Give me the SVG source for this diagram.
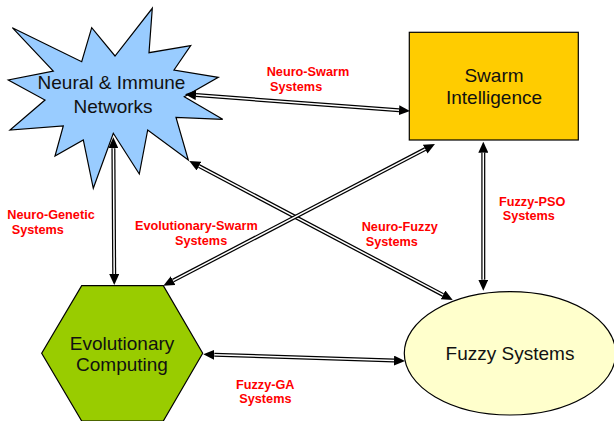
<svg xmlns="http://www.w3.org/2000/svg" width="614" height="421" viewBox="0 0 614 421">
  <defs>
    <marker id="head" viewBox="0 -5 11 10" refX="0" refY="0" markerWidth="11" markerHeight="10" markerUnits="userSpaceOnUse" orient="auto-start-reverse">
      <path d="M0,-5 L11,0 L0,5 z" fill="#000"/>
    </marker>
    <style>
      .shape { stroke: #000; stroke-width: 1.2; }
      .title { font-family: "Liberation Sans", Arial, sans-serif; font-size: 19px; fill: #111; text-anchor: middle; }
      .label { font-family: "Liberation Sans", Arial, sans-serif; font-size: 12.7px; font-weight: bold; fill: #ff0000; }
      .wire-outer { fill: none; stroke: #000; stroke-width: 4; marker-start: url(#head); marker-end: url(#head); }
      .wire-inner { fill: none; stroke: #fff; stroke-width: 1.5; }
    </style>
  </defs>
  <rect width="614" height="421" fill="#fff"/>

  <g id="neural-immune">
    <polygon class="shape" fill="#99ccff" points="12.3,27.7 81.7,61.7 91.7,27.7 115,56 152.3,8.3 149,52.7 190.7,45.7 174,70 218.3,77.3 184.3,96.7 222.7,119.3 176,117.3 188.3,160 147.7,130 139.3,174 113.3,133.3 93.3,188.3 83.3,140 55,156 63.3,126 10,130 45,100 8.3,80 53.3,71"/>
    <text class="title" x="111.5" y="89">Neural &amp; Immune</text>
    <text class="title" x="113" y="113">Networks</text>
  </g>

  <g id="swarm">
    <rect class="shape" fill="#ffcc00" x="409.3" y="32.3" width="169" height="107.7"/>
    <text class="title" x="494" y="82">Swarm</text>
    <text class="title" x="494" y="104">Intelligence</text>
  </g>

  <g id="evolutionary">
    <polygon class="shape" fill="#99cc00" points="81.7,285.7 163.3,285.7 202.7,353.3 163.3,421 81.7,421 41.7,353.3"/>
    <text class="title" x="122" y="350">Evolutionary</text>
    <text class="title" x="122" y="371">Computing</text>
  </g>

  <g id="fuzzy">
    <ellipse class="shape" fill="#ffffcc" cx="510" cy="353.3" rx="105.7" ry="61.7"/>
    <text class="title" x="510" y="360">Fuzzy Systems</text>
  </g>

  <g id="connectors">
    <path class="wire-outer" d="M196,95.1 L399,110.2"/>
    <path class="wire-inner" d="M196,95.1 L399,110.2"/>
    <path class="wire-outer" d="M113.4,148.3 L114.2,274"/>
    <path class="wire-inner" d="M113.4,148.3 L114.2,274"/>
    <path class="wire-outer" d="M199,166.1 L443,294.9"/>
    <path class="wire-inner" d="M199,166.1 L443,294.9"/>
    <path class="wire-outer" d="M173.1,280.6 L425.2,149.1"/>
    <path class="wire-inner" d="M173.1,280.6 L425.2,149.1"/>
    <path class="wire-outer" d="M483.3,152.7 L483.3,279.7"/>
    <path class="wire-inner" d="M483.3,152.7 L483.3,279.7"/>
    <path class="wire-outer" d="M214.3,354.7 L394,360.6"/>
    <path class="wire-inner" d="M214.3,354.7 L394,360.6"/>
  </g>

  <g id="labels">
    <text class="label" x="266.7" y="76">Neuro-Swarm</text>
    <text class="label" x="270" y="91">Systems</text>
    <text class="label" x="7.3" y="219.3">Neuro-Genetic</text>
    <text class="label" x="11.7" y="234.3">Systems</text>
    <text class="label" x="135" y="230">Evolutionary-Swarm</text>
    <text class="label" x="175" y="245">Systems</text>
    <text class="label" x="361.7" y="231">Neuro-Fuzzy</text>
    <text class="label" x="365.7" y="245.7">Systems</text>
    <text class="label" x="499" y="205.7">Fuzzy-PSO</text>
    <text class="label" x="502.7" y="220.3">Systems</text>
    <text class="label" x="236" y="389.3">Fuzzy-GA</text>
    <text class="label" x="239.3" y="403.3">Systems</text>
  </g>
</svg>
